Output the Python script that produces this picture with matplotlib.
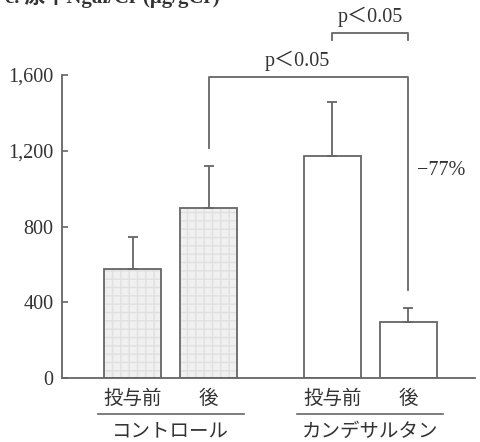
import matplotlib
matplotlib.use("Agg")
import matplotlib.pyplot as plt
from matplotlib.transforms import blended_transform_factory

# ---- data ----
groups = ["コントロール", "カンデサルタン"]
bar_labels = ["投与前", "後", "投与前", "後"]
means = [575, 900, 1170, 295]
errors = [170, 220, 290, 73]
yticks = [0, 400, 800, 1200, 1600]
ytick_labels = ["0", "400", "800", "1,200", "1,600"]
positions = [0, 1, 2.63, 3.63]
sig_text = "p＜0.05"
change_text = "−77%"
title = "c. 尿中Ngal/Cr (μg/gCr)"

W, H = 480, 442
fig = plt.figure(figsize=(W / 100, H / 100), dpi=100)
ax_l, ax_r, ax_t, ax_b = 62, 475, 75, 378
ax = fig.add_axes([ax_l / W, 1 - ax_b / H, (ax_r - ax_l) / W, (ax_b - ax_t) / H])

line_c = "#666666"
text_c = "#333333"
serif = ["Liberation Serif", "Noto Sans CJK JP"]
jp = ["Noto Sans CJK JP", "DejaVu Sans"]

unit = 76.0
ax.set_xlim(positions[0] - 70.5 / unit, positions[0] + 342.5 / unit)
ax.set_ylim(0, 1600)

width = 57 / unit
fills = ["#f0f0f0", "#f0f0f0", "white", "white"]
hatches = ["++", "++", None, None]
# hatched fill layer
for p, m, f, h in zip(positions, means, fills, hatches):
    ax.bar(p, m, width=width, color=f, hatch=h, edgecolor="#e0e0e0" if h else f,
           linewidth=0, zorder=1)
# outlines
ax.bar(positions, means, width=width, fill=False, edgecolor=line_c, linewidth=1.3, zorder=2)
ax.errorbar(positions, means, yerr=[[0] * 4, errors], fmt="none", ecolor=line_c,
            elinewidth=1.3, capsize=3.8, capthick=1.3, zorder=3)

for s in ["top", "right"]:
    ax.spines[s].set_visible(False)
for s in ["left", "bottom"]:
    ax.spines[s].set_color(line_c)
    ax.spines[s].set_linewidth(1.3)
ax.set_xticks([])
ax.set_yticks(yticks)
ax.set_yticklabels(ytick_labels, fontfamily=serif, fontsize=14.5, color=text_c)
ax.tick_params(axis="y", direction="in", length=4, width=1.2, color=line_c, pad=6)

# brackets
kw = dict(color=line_c, linewidth=1.3, clip_on=False)
b1 = 1590
ax.plot([positions[1], positions[1], positions[3], positions[3]], [1215, b1, b1, 465], **kw)
ax.text((positions[1] + positions[3]) / 2 - 0.15, b1 + 30, sig_text, ha="center", va="bottom",
        fontfamily=serif, fontsize=14.5, color=text_c)
b2 = 1821
ax.plot([positions[2], positions[2], positions[3], positions[3]], [b2 - 35, b2, b2, b2 - 35], **kw)
ax.text((positions[2] + positions[3]) / 2, b2 + 30, sig_text, ha="center", va="bottom",
        fontfamily=serif, fontsize=14.5, color=text_c)
ax.text(positions[3] + 0.11, 1095, change_text, ha="left", va="center",
        fontfamily=serif, fontsize=14.5, color=text_c)

# category labels
tr = blended_transform_factory(ax.transData, fig.transFigure)
for p, lab in zip(positions, bar_labels):
    ax.text(p, 1 - 398 / H, lab, transform=tr, ha="center", va="center",
            fontfamily=jp, fontsize=14, color=text_c)
grp_centers = [(positions[0] + positions[1]) / 2, (positions[2] + positions[3]) / 2]
half = 73 / unit
for c, g in zip(grp_centers, groups):
    ax.plot([c - half, c + half], [1 - 414 / H] * 2, transform=tr, color=line_c,
            linewidth=1.2, clip_on=False)
    ax.text(c, 1 - 431 / H, g, transform=tr, ha="center", va="center",
            fontfamily=jp, fontsize=14, color=text_c)

fig.text(5 / W, 1 - 8 / H, title, ha="left", va="bottom", fontweight="bold",
         fontfamily=["Liberation Serif", "Noto Sans CJK JP"], fontsize=15, color=text_c)

fig.savefig("out.png", dpi=100)
